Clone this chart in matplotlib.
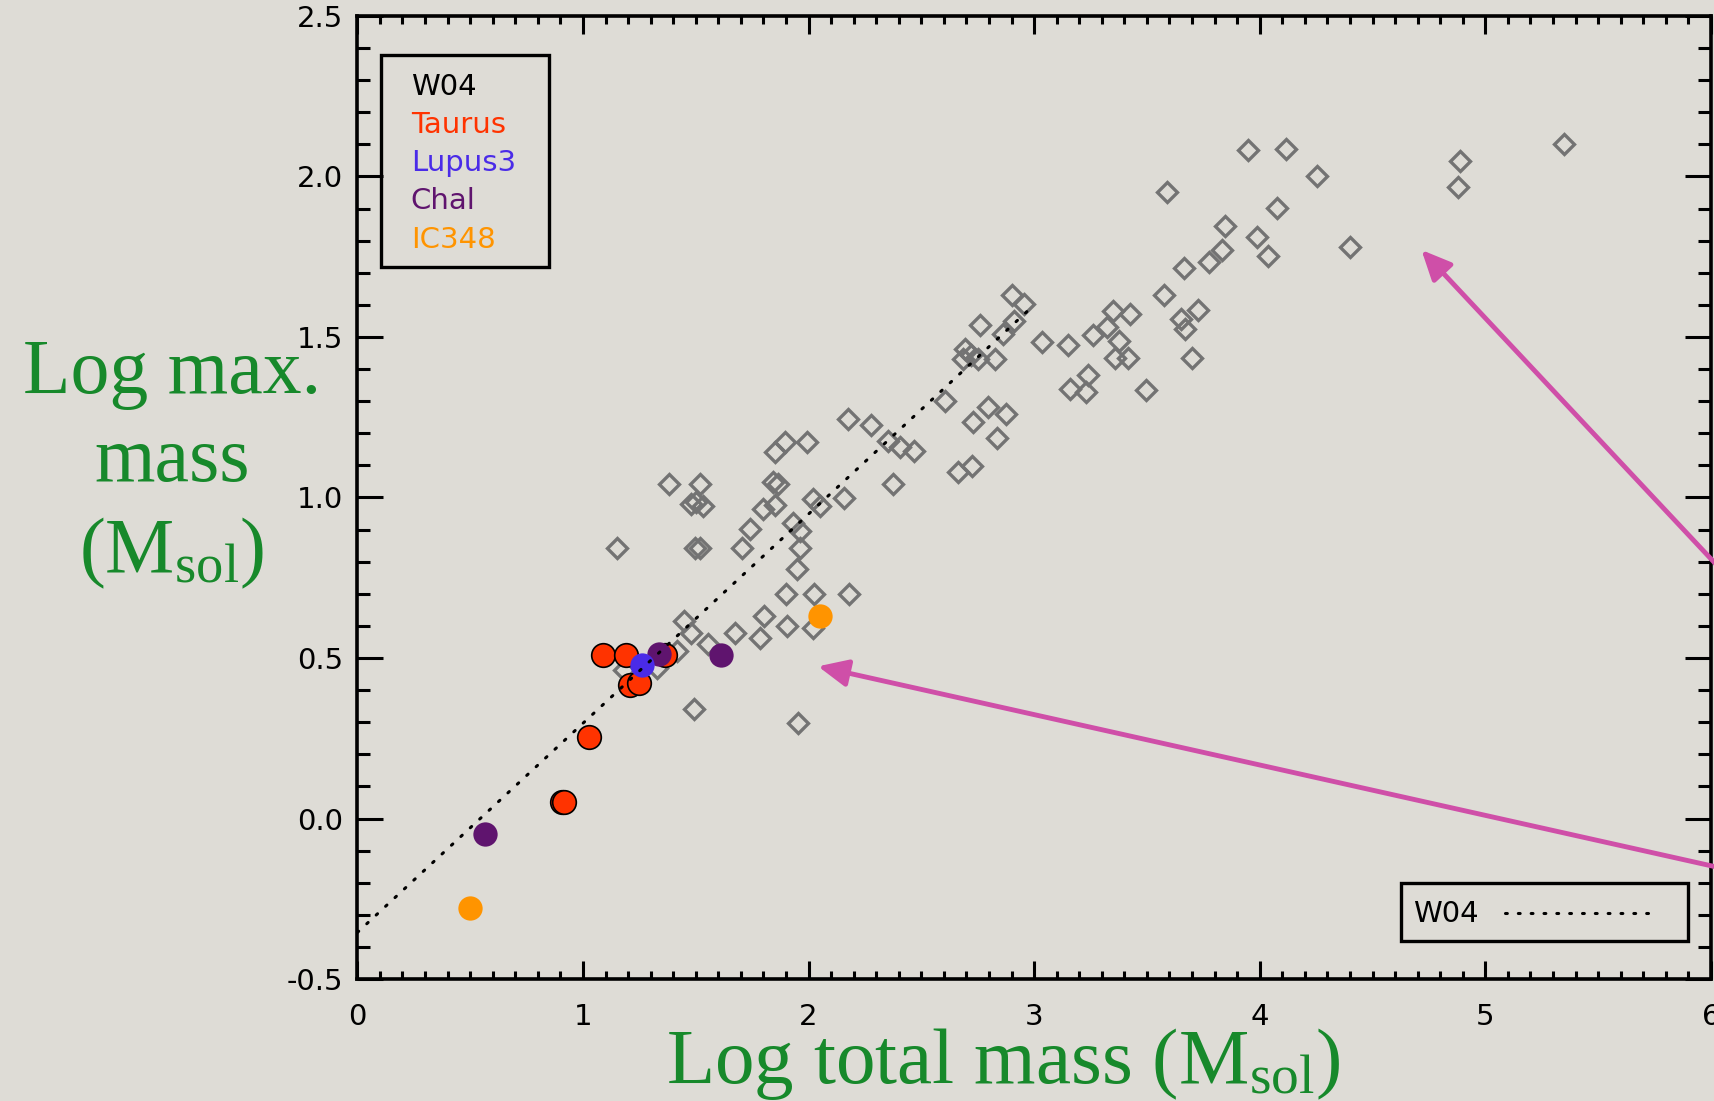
import numpy as np
import matplotlib
matplotlib.use("Agg")
import matplotlib.pyplot as plt
from matplotlib.ticker import MultipleLocator, FormatStrFormatter
from matplotlib.patches import Rectangle
from matplotlib.lines import Line2D

# W04 clusters (grey diamonds)
w04_x = [2.900, 2.954, 2.762, 2.910, 2.862, 2.693, 2.685, 2.722, 2.752, 2.826,
         3.033, 3.151, 3.158, 2.604, 2.796, 2.877, 2.730, 2.176, 2.279,
         1.895, 1.991, 1.851, 2.353, 2.405, 2.467, 2.836, 2.723, 2.663, 2.375,
         1.382, 1.521, 1.843, 1.865, 1.481, 1.500, 1.533, 1.799, 1.851, 2.020,
         2.050, 2.157, 1.740, 1.931, 1.961, 1.707, 1.961, 1.149, 1.496, 1.518,
         1.947, 1.902, 2.024, 2.180, 1.447, 1.802, 1.481, 1.673, 1.905, 2.020,
         1.784, 1.555, 1.415, 1.180, 1.330, 1.492, 1.954,
         3.949, 4.116, 4.252, 3.587, 4.077, 4.887, 4.880, 5.348, 3.846, 3.986,
         4.037, 4.402, 3.831, 3.776, 3.664, 3.575, 3.350, 3.424, 3.321, 3.262,
         3.377, 3.358, 3.417, 3.649, 3.727, 3.668, 3.698, 3.239, 3.229, 3.495]
w04_y = [1.630, 1.604, 1.536, 1.549, 1.510, 1.463, 1.432, 1.443, 1.432, 1.432,
         1.484, 1.476, 1.338, 1.302, 1.281, 1.260, 1.234, 1.243, 1.226,
         1.174, 1.174, 1.143, 1.177, 1.156, 1.146, 1.184, 1.099, 1.078, 1.042,
         1.042, 1.042, 1.047, 1.042, 0.979, 0.985, 0.974, 0.963, 0.976, 0.995,
         0.972, 0.997, 0.903, 0.922, 0.896, 0.844, 0.844, 0.844, 0.844, 0.844,
         0.776, 0.698, 0.698, 0.698, 0.614, 0.632, 0.578, 0.578, 0.601, 0.594,
         0.563, 0.545, 0.521, 0.463, 0.470, 0.341, 0.299,
         2.083, 2.086, 2.000, 1.953, 1.903, 2.047, 1.966, 2.101, 1.847, 1.812,
         1.753, 1.781, 1.771, 1.734, 1.716, 1.630, 1.580, 1.573, 1.531, 1.505,
         1.486, 1.434, 1.434, 1.557, 1.583, 1.526, 1.434, 1.382, 1.330, 1.336]

taurus_x = [1.089, 1.193, 1.363, 1.208, 1.249, 1.027, 0.906, 0.916]
taurus_y = [0.510, 0.510, 0.510, 0.417, 0.422, 0.253, 0.050, 0.050]
lupus_x = [1.260]
lupus_y = [0.479]
chal_x = [0.565, 1.338, 1.610]
chal_y = [-0.047, 0.513, 0.510]
ic348_x = [0.499, 2.050]
ic348_y = [-0.279, 0.632]

# W04 relation (dotted line)
rel_x = [0.0, 3.0]
rel_y = [-0.355, 1.600]

names = ["W04", "Taurus", "Lupus3", "Chal", "IC348"]
name_colors = ["black", "#FF3300", "#4A2BE8", "#5F146E", "#FF9400"]

bg = "#DEDCD6"
green = "#17892B"
pink = "#CF4FA8"

plt.rcParams["axes.unicode_minus"] = False
plt.rcParams["mathtext.fontset"] = "custom"
plt.rcParams["mathtext.rm"] = "Liberation Serif"
plt.rcParams["mathtext.it"] = "Liberation Serif:italic"

fig = plt.figure(figsize=(17.14, 11.01), dpi=100, facecolor=bg)
ax = fig.add_axes([0.2085, 0.1108, 0.7897, 0.8747], facecolor=bg)

ax.plot(w04_x, w04_y, "D", ms=10, mfc="none", mec="#737373", mew=2.4, zorder=2)
ax.plot(taurus_x, taurus_y, "o", ms=17, mfc=name_colors[1], mec="black", mew=1.2, zorder=3)
ax.plot(chal_x, chal_y, "o", ms=17.5, mfc=name_colors[3], mec="none", zorder=4)
ax.plot(lupus_x, lupus_y, "o", ms=17.5, mfc=name_colors[2], mec="none", zorder=5)
ax.plot(ic348_x, ic348_y, "o", ms=17.5, mfc=name_colors[4], mec="none", zorder=5)
ax.plot(rel_x, rel_y, color="black", lw=2.2, ls=(0, (0.6, 3.6)),
        dash_capstyle="round", zorder=6)

ax.set_xlim(0, 6)
ax.set_ylim(-0.5, 2.5)
ax.xaxis.set_major_locator(MultipleLocator(1))
ax.xaxis.set_minor_locator(MultipleLocator(0.1))
ax.yaxis.set_major_locator(MultipleLocator(0.5))
ax.yaxis.set_minor_locator(MultipleLocator(0.1))
ax.yaxis.set_major_formatter(FormatStrFormatter("%.1f"))
ax.xaxis.set_major_formatter(FormatStrFormatter("%d"))

ax.tick_params(which="both", direction="in", top=True, right=True, width=2.2,
               labelsize=21)
ax.tick_params(axis="x", which="major", length=13, pad=17)
ax.tick_params(axis="x", which="minor", length=6)
ax.tick_params(axis="y", which="major", length=19, pad=10)
ax.tick_params(axis="y", which="minor", length=9.5)
for s in ax.spines.values():
    s.set_linewidth(2.6)

# axis labels
ax.set_xlabel("Log total mass (M$_{\\mathrm{sol}}$)", fontsize=57,
              family="Liberation Serif", color=green)
ax.xaxis.set_label_coords(0.477, -0.108)
ax.xaxis.label.set_va("baseline")
ax.set_ylabel("Log max.\nmass\n(M$_{\\mathrm{sol}}$)", fontsize=56,
              family="Liberation Serif", color=green, rotation=0,
              ha="center", va="center", linespacing=1.3)
ax.yaxis.set_label_coords(-0.137, 0.534)

# top-left legend box
ax.add_patch(Rectangle((0.0177, 0.7397), 0.1236, 0.2198, transform=ax.transAxes,
                       fill=False, ec="black", lw=2.4, zorder=7))
ys = [0.918, 0.8787, 0.8385, 0.7993, 0.7588]
for n, c, yy in zip(names, name_colors, ys):
    ax.text(0.0395, yy, n, color=c, fontsize=21, va="baseline", ha="left",
            transform=ax.transAxes, zorder=8)

# bottom-right legend box
ax.add_patch(Rectangle((0.7708, 0.0398), 0.2124, 0.0596, transform=ax.transAxes,
                       fill=False, ec="black", lw=2.4, zorder=7))
ax.text(0.7797, 0.0595, "W04", fontsize=21, va="baseline", ha="left",
        transform=ax.transAxes, zorder=8)
ax.add_line(Line2D([0.8478, 0.9535], [0.0688, 0.0688], transform=ax.transAxes,
                   color="black", lw=2.2, ls=(0, (0.6, 3.6)),
                   dash_capstyle="round", zorder=8))

# pink arrows
arrow = dict(arrowstyle="-|>,head_length=1.2,head_width=0.55", mutation_scale=15,
             color=pink, lw=3.5, shrinkA=0, shrinkB=0)
ax.annotate("", xy=(4.717, 1.771), xytext=(6.12, 0.719), arrowprops=arrow,
            annotation_clip=False, zorder=9)
ax.annotate("", xy=(2.042, 0.474), xytext=(6.12, -0.166), arrowprops=arrow,
            annotation_clip=False, zorder=9)

fig.savefig("out.png", dpi=100, facecolor=bg)
